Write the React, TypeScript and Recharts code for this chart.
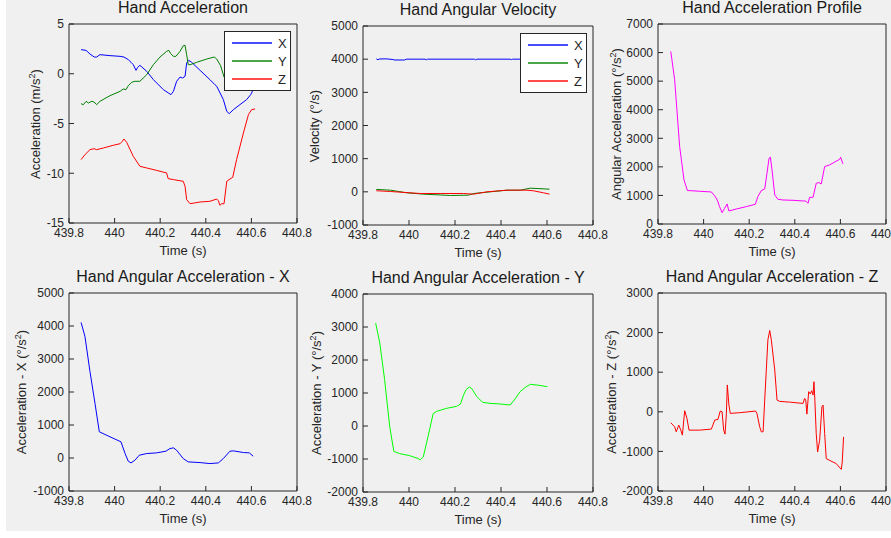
import React from 'react';
import { LineChart, Line, XAxis, YAxis, Legend } from 'recharts';

// [time (s), value] pairs
type Pt = [number, number];

const timeTicks = [439.8, 440, 440.2, 440.4, 440.6, 440.8];

const accX: Pt[] = [
  [439.853, 2.42], [439.875, 2.35], [439.892, 1.98], [439.911, 1.68], [439.921, 1.68],
  [439.936, 1.92], [439.98, 1.82], [440.024, 1.75], [440.041, 1.68], [440.06, 1.42],
  [440.072, 1.15], [440.082, 0.91], [440.094, 0.34], [440.101, 0.64], [440.111, 0.85],
  [440.141, 0.24], [440.17, -0.59], [440.214, -1.6], [440.247, -2.1], [440.258, -1.77],
  [440.272, -0.76], [440.287, -0.33], [440.298, -0.43], [440.309, -0.26], [440.316, 1.08],
  [440.325, 1.35], [440.338, 1.15], [440.375, 0.34], [440.418, -0.59], [440.44, -1.1],
  [440.448, -1.26], [440.477, -2.6], [440.492, -3.78], [440.503, -4.01], [440.521, -3.61],
  [440.55, -3.1], [440.579, -2.6], [440.597, -2.1], [440.61, -1.5],
];
const accY: Pt[] = [
  [439.853, -3.01], [439.863, -3.11], [439.875, -2.77], [439.885, -2.94], [439.9, -2.77],
  [439.91, -2.84], [439.921, -3.11], [439.936, -2.77], [439.98, -2.2], [440.024, -1.77],
  [440.038, -1.53], [440.05, -1.6], [440.06, -1.2], [440.075, -0.86], [440.089, -0.76],
  [440.111, -0.76], [440.141, -0.09], [440.17, 0.91], [440.199, 1.68], [440.228, 2.25],
  [440.238, 2.35], [440.246, 2.02], [440.258, 1.75], [440.269, 1.75], [440.287, 2.25],
  [440.301, 2.82], [440.309, 2.86], [440.316, 1.92], [440.323, 0.91], [440.331, 0.91],
  [440.36, 1.15], [440.404, 1.48], [440.437, 1.68], [440.448, 1.48], [440.465, 0.81],
  [440.48, -0.33], [440.53, -0.9], [440.61, -0.7],
];
const accZ: Pt[] = [
  [439.853, -8.63], [439.87, -8.13], [439.892, -7.63], [439.91, -7.53], [439.921, -7.63],
  [439.951, -7.46], [439.994, -7.19], [440.024, -7.03], [440.034, -6.79], [440.041, -6.56],
  [440.053, -6.89], [440.082, -8.3], [440.111, -9.3], [440.141, -9.47], [440.184, -9.71],
  [440.228, -9.97], [440.235, -10.54], [440.258, -10.64], [440.301, -10.81], [440.309, -11.31],
  [440.316, -12.65], [440.331, -13.06], [440.375, -12.89], [440.418, -12.82], [440.448, -12.59],
  [440.455, -12.76], [440.462, -13.22], [440.47, -13.06], [440.48, -13.06], [440.492, -10.81],
  [440.506, -10.58], [440.518, -10.41], [440.535, -8.63], [440.565, -5.95], [440.587, -4.11],
  [440.601, -3.61], [440.616, -3.54],
];

const velX: Pt[] = [
  [439.858, 4010], [439.865, 3980], [439.87, 4005], [439.9, 4010], [439.93, 3990],
  [439.935, 3975], [439.98, 3975], [439.99, 4000], [440.07, 4000], [440.075, 3980],
  [440.08, 4000], [440.285, 4000], [440.29, 3980], [440.295, 4000], [440.44, 4000],
  [440.445, 3985], [440.45, 4000], [440.61, 4000],
];
const velY: Pt[] = [
  [439.858, 73], [439.919, 50], [439.991, -30], [440.063, -70], [440.18, -110],
  [440.259, -100], [440.281, -50], [440.353, 0], [440.426, 50], [440.484, 50],
  [440.527, 110], [440.557, 100], [440.611, 80],
];
const velZ: Pt[] = [
  [439.858, 33], [439.919, 10], [440.049, -50], [440.136, -50], [440.237, -50],
  [440.281, -70], [440.339, 0], [440.426, 50], [440.513, 50], [440.542, 30],
  [440.585, -30], [440.611, -70],
];

const accProfile: Pt[] = [
  [439.856, 6042], [439.873, 5050], [439.895, 2711], [439.914, 1543], [439.929, 1169],
  [439.939, 1169], [439.983, 1145], [440.034, 1122], [440.049, 982], [440.06, 841],
  [440.07, 608], [440.081, 397], [440.092, 549], [440.103, 701], [440.111, 456],
  [440.144, 526], [440.187, 608], [440.227, 690], [440.238, 958], [440.253, 1169],
  [440.268, 1227], [440.278, 1776], [440.287, 2302], [440.293, 2337], [440.3, 1893],
  [440.312, 1017], [440.326, 865], [440.348, 841], [440.392, 830], [440.436, 806],
  [440.448, 806], [440.458, 725], [440.465, 935], [440.48, 935], [440.494, 1426],
  [440.506, 1449], [440.516, 1402], [440.531, 2010], [440.553, 2068], [440.597, 2267],
  [440.601, 2337], [440.611, 2104],
];

const angAccX: Pt[] = [
  [439.853, 4108], [439.87, 3682], [439.892, 2618], [439.914, 1655], [439.933, 794],
  [439.98, 642], [440.028, 490], [440.046, 135], [440.06, -98], [440.072, -149],
  [440.089, -68], [440.108, 84], [440.141, 135], [440.184, 155], [440.225, 206],
  [440.243, 287], [440.258, 307], [440.272, 236], [440.301, -17], [440.323, -118],
  [440.375, -139], [440.418, -169], [440.455, -149], [440.477, -17], [440.506, 206],
  [440.521, 216], [440.565, 166], [440.591, 155], [440.608, 54],
];
const angAccY: Pt[] = [
  [439.855, 3121], [439.873, 2515], [439.894, 1404], [439.916, -10], [439.934, -768],
  [439.96, -838], [440.003, -899], [440.037, -980], [440.05, -1020], [440.062, -939],
  [440.083, -313], [440.105, 374], [440.12, 444], [440.163, 535], [440.207, 596],
  [440.224, 667], [440.236, 919], [440.248, 1101], [440.262, 1182], [440.272, 1141],
  [440.294, 899], [440.32, 717], [440.352, 687], [440.397, 667], [440.44, 636],
  [440.461, 818], [440.483, 1040], [440.508, 1182], [440.527, 1263], [440.556, 1242],
  [440.592, 1202], [440.602, 1192],
];
const angAccZ: Pt[] = [
  [439.856, -277], [439.873, -378], [439.88, -505], [439.891, -336], [439.9, -463],
  [439.907, -589], [439.917, 27], [439.927, -167], [439.936, -463], [439.983, -463],
  [440.034, -437], [440.049, -209], [440.063, -192], [440.073, 19], [440.081, 2],
  [440.088, -463], [440.094, -564], [440.1, -40], [440.104, 678], [440.111, 171],
  [440.117, -40], [440.158, -23], [440.228, 19], [440.234, -40], [440.246, -378],
  [440.253, -505], [440.261, -505], [440.268, 296], [440.275, 1057], [440.282, 1818],
  [440.29, 2054], [440.297, 1818], [440.312, 1057], [440.322, 296], [440.334, 262],
  [440.377, 245], [440.436, 211], [440.443, 338], [440.448, 296], [440.453, -59],
  [440.461, 508], [440.468, 449], [440.474, 533], [440.48, 423], [440.484, 760],
  [440.488, 296], [440.494, -549], [440.5, -1014], [440.509, -718], [440.519, 127],
  [440.524, 169], [440.531, -549], [440.538, -1183], [440.582, -1310], [440.604, -1454],
  [440.608, -1268], [440.614, -633],
];

const accTicks = [-15, -10, -5, 0, 5];
const velTicks = [-1000, 0, 1000, 2000, 3000, 4000, 5000];
const profileTicks = [0, 1000, 2000, 3000, 4000, 5000, 6000, 7000];
const angXTicks = [-1000, 0, 1000, 2000, 3000, 4000, 5000];
const angYTicks = [-2000, -1000, 0, 1000, 2000, 3000, 4000];
const angZTicks = [-2000, -1000, 0, 1000, 2000, 3000];

const INK = '#262626';
const FONT = '"Liberation Sans", Arial, Helvetica, sans-serif';
const PAD_TOP = 10;

const toRows = (pts: Pt[]) => pts.map(([t, v]) => ({ t, v }));

interface Series { name: string; color: string; points: Pt[] }

// matlab-style legend box: short line sample + label per series
const LegendBox = ({ payload }: any) => (
  <div style={{ background: '#fff', border: `1px solid ${INK}`, padding: '2px 0', width: 65, boxSizing: 'content-box' }}>
    {(payload || []).map((p: any, i: number) => (
      <div key={i} style={{ display: 'flex', alignItems: 'center', height: 18 }}>
        <div style={{ flex: '0 0 40px', height: 2, marginLeft: 7, backgroundColor: p.color, opacity: 0.7 }} />
        <span style={{ marginLeft: 6, fontSize: 13, color: INK, lineHeight: '13px' }}>{p.value}</span>
      </div>
    ))}
  </div>
);

interface PanelProps {
  title: string;
  yLabel: React.ReactNode;
  yTicks: number[];
  series: Series[];
  legend?: boolean;
  left: number;
  top: number;
  width: number;
  height: number;
  labelX: number;
}

const Panel = ({ title, yLabel, yTicks, series, legend, left, top, width, height, labelX }: PanelProps) => {
  const yDomain = [yTicks[0], yTicks[yTicks.length - 1]];
  const xDomain = [timeTicks[0], timeTicks[timeTicks.length - 1]];
  return (
    <>
      <div style={{ position: 'absolute', left, width, top: top - 24, lineHeight: '16px', fontSize: 16, textAlign: 'center', color: '#1a1a1a', whiteSpace: 'nowrap' }}>
        {title}
      </div>
      <div style={{ position: 'absolute', left: labelX, top: top + height / 2, transform: 'translate(-50%, -50%) rotate(-90deg)', fontSize: 13, lineHeight: '15px', color: INK, whiteSpace: 'nowrap' }}>
        {yLabel}
      </div>
      <div style={{ position: 'absolute', left, width, top: top + height + 21, lineHeight: '13px', fontSize: 13, textAlign: 'center', color: INK }}>
        Time (s)
      </div>
      <div style={{ position: 'absolute', left: left - 66, top: top - 1 - PAD_TOP }}>
        <LineChart width={width + 87} height={height + 41 + PAD_TOP} margin={{ top: PAD_TOP, right: 20, bottom: 0, left: 0 }}>
          <XAxis dataKey="t" type="number" domain={xDomain} ticks={timeTicks} interval={0} allowDataOverflow
            height={40} tickSize={-5} tickMargin={10} stroke={INK} tick={{ fill: INK, fontSize: 12 }} />
          <XAxis xAxisId="top" orientation="top" type="number" domain={xDomain} ticks={timeTicks} interval={0}
            allowDataOverflow height={1} tickSize={-5} tick={false} stroke={INK} />
          <YAxis type="number" domain={yDomain} ticks={yTicks} interval={0} allowDataOverflow width={66}
            tickSize={-5} tickMargin={10} stroke={INK} tick={{ fill: INK, fontSize: 12 }} />
          <YAxis yAxisId="right" orientation="right" type="number" domain={yDomain} ticks={yTicks} interval={0}
            allowDataOverflow width={1} tickSize={-5} tick={false} stroke={INK} />
          {series.map((s) => (
            <Line key={s.name} name={s.name} data={toRows(s.points)} dataKey="v" type="linear"
              stroke={s.color} strokeWidth={1} dot={false} isAnimationActive={false} />
          ))}
          {legend && (
            <Legend layout="horizontal" align="center" verticalAlign="middle" content={LegendBox}
              wrapperStyle={{ left: 66 + width - 73, top: PAD_TOP + 8, width: 67, height: 'auto' }} />
          )}
        </LineChart>
      </div>
    </>
  );
};

const deg2 = (prefix: string) => (
  <span>{prefix} (°/s<sup style={{ fontSize: '0.7em' }}>2</sup>)</span>
);

export default function App() {
  return (
    <div style={{ position: 'absolute', left: 0, top: 0, width: 891, height: 538, background: '#fff', fontFamily: FONT, overflow: 'hidden' }}>
      <div style={{ position: 'absolute', left: 6, top: 0, width: 885, height: 531, background: '#f0f0f0' }} />
      <Panel title="Hand Acceleration" yTicks={accTicks} legend
        yLabel={<span>Acceleration (m/s<sup style={{ fontSize: '0.7em' }}>2</sup>)</span>}
        series={[
          { name: 'X', color: '#0000ff', points: accX },
          { name: 'Y', color: '#008000', points: accY },
          { name: 'Z', color: '#ff0000', points: accZ },
        ]}
        left={69} top={24} width={228} height={199} labelX={34} />
      <Panel title="Hand Angular Velocity" yTicks={velTicks} legend
        yLabel="Velocity (°/s)"
        series={[
          { name: 'X', color: '#0000ff', points: velX },
          { name: 'Y', color: '#008000', points: velY },
          { name: 'Z', color: '#ff0000', points: velZ },
        ]}
        left={363} top={26} width={230} height={199} labelX={314} />
      <Panel title="Hand Acceleration Profile" yTicks={profileTicks}
        yLabel={deg2('Angular Acceleration')}
        series={[{ name: 'Profile', color: '#ff00ff', points: accProfile }]}
        left={658} top={24} width={228} height={200} labelX={615} />
      <Panel title="Hand Angular Acceleration - X" yTicks={angXTicks}
        yLabel={deg2('Acceleration - X')}
        series={[{ name: 'X', color: '#0000ff', points: angAccX }]}
        left={69} top={293} width={228} height={198} labelX={20} />
      <Panel title="Hand Angular Acceleration - Y" yTicks={angYTicks}
        yLabel={deg2('Acceleration - Y')}
        series={[{ name: 'Y', color: '#00ff00', points: angAccY }]}
        left={363} top={294} width={230} height={198} labelX={315} />
      <Panel title="Hand Angular Acceleration - Z" yTicks={angZTicks}
        yLabel={deg2('Acceleration - Z')}
        series={[{ name: 'Z', color: '#ff0000', points: angAccZ }]}
        left={658} top={293} width={228} height={198} labelX={610} />
    </div>
  );
}
